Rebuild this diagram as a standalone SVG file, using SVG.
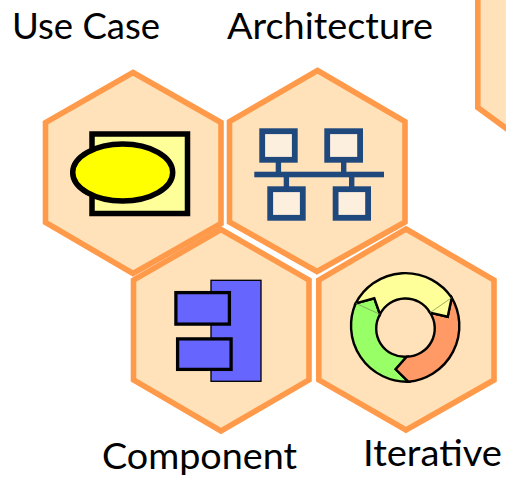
<svg xmlns="http://www.w3.org/2000/svg" width="506" height="477" viewBox="0 0 506 477">
<style>
.hex{fill:#FFE2B9;stroke:#FF9A4A;stroke-width:5.6;stroke-linejoin:miter}
.lbl{font-family:"Lato","Carlito","Liberation Sans",sans-serif;font-size:36px;fill:#000}
.net{fill:#FDEFDD;stroke:#1F497D;stroke-width:5.8}
.bar{fill:#1F497D}
.cmp{fill:#6666FF;stroke:#000}
.seg{stroke:#000;stroke-width:2.4;stroke-linejoin:miter}
</style>
<rect width="506" height="477" fill="#fff"/>
<g id="node-top-right"><polygon class="hex" points="477.8,-20 530,-20 530,146 477.8,107.5"/></g>
<g id="node-use-case">
<polygon class="hex" points="133,72.5 221,122.5 221,223.5 133,273.5 45.5,222.5 45.5,122.5"/>
<rect x="92" y="134" width="95.5" height="79.5" fill="#FFFF99" stroke="#000" stroke-width="5.5"/>
<ellipse cx="122.7" cy="172.5" rx="50" ry="28.5" fill="#FFFF00" stroke="#000" stroke-width="5.5"/>
<text class="lbl" x="12" y="39" textLength="148" lengthAdjust="spacingAndGlyphs">Use Case</text>
</g>
<g id="node-architecture">
<polygon class="hex" points="317.5,70.5 405,121.5 405,222 317,271.5 229.5,222 229.5,121.5"/>
<rect class="bar" x="254.3" y="171.7" width="129.7" height="5.6"/>
<rect class="bar" x="275.7" y="162" width="5.4" height="10"/>
<rect class="bar" x="341" y="162" width="5.4" height="10"/>
<rect class="bar" x="283.7" y="177" width="5.4" height="10"/>
<rect class="bar" x="349" y="177" width="5.4" height="10"/>
<rect class="net" x="262.2" y="131.2" width="32.6" height="28.6"/>
<rect class="net" x="327.2" y="131.2" width="32.9" height="28.6"/>
<rect class="net" x="270.2" y="189.2" width="32.6" height="28.6"/>
<rect class="net" x="335.6" y="189.2" width="32.5" height="28.6"/>
<text class="lbl" x="227" y="39" textLength="206" lengthAdjust="spacingAndGlyphs">Architecture</text>
</g>
<g id="node-component">
<polygon class="hex" points="221,229.5 309,280 309,380 221,431 133.5,380 133.5,280"/>
<rect class="cmp" x="211" y="280.3" width="50" height="101" stroke-width="1.3"/>
<rect class="cmp" x="175.9" y="292.6" width="53.5" height="31.5" stroke-width="3.3"/>
<rect class="cmp" x="177.6" y="338.9" width="53.5" height="30.5" stroke-width="3.3"/>
<text class="lbl" x="102" y="469" textLength="195" lengthAdjust="spacingAndGlyphs">Component</text>
</g>
<g id="node-iterative">
<polygon class="hex" points="406,229 494,280 494,380 406,430 318.8,380 318.8,280"/>
<path class="seg" fill="#99FF66" d="M355.7,303.3 A56,56 0 0 0 408.3,381.7 L395.7,369.3 L406.7,356.7 A28.3,28.3 0 0 1 380,314.3 L374.3,298.3 Z"/>
<path class="seg" fill="#FF9966" d="M451.7,297.7 A56,56 0 0 1 408.3,381.7 L395.7,369.3 L406.7,356.7 A28.3,28.3 0 0 0 430,312.7 L447.7,316.7 Z"/>
<path class="seg" fill="#FFFF99" d="M355.7,303.3 A56,56 0 0 1 451.7,297.7 L447.7,316.7 L430,312.7 A28.3,28.3 0 0 0 380,314.3 L374.3,298.3 Z"/>
<path d="M355.7,303.3 L380,314.3 M451.7,297.7 L430,312.7" stroke="#7a8a50" stroke-width="0.7" fill="none"/>
<text class="lbl" x="363" y="466" textLength="139" lengthAdjust="spacingAndGlyphs">Iterative</text>
</g>
<g id="connectors"/>
</svg>
